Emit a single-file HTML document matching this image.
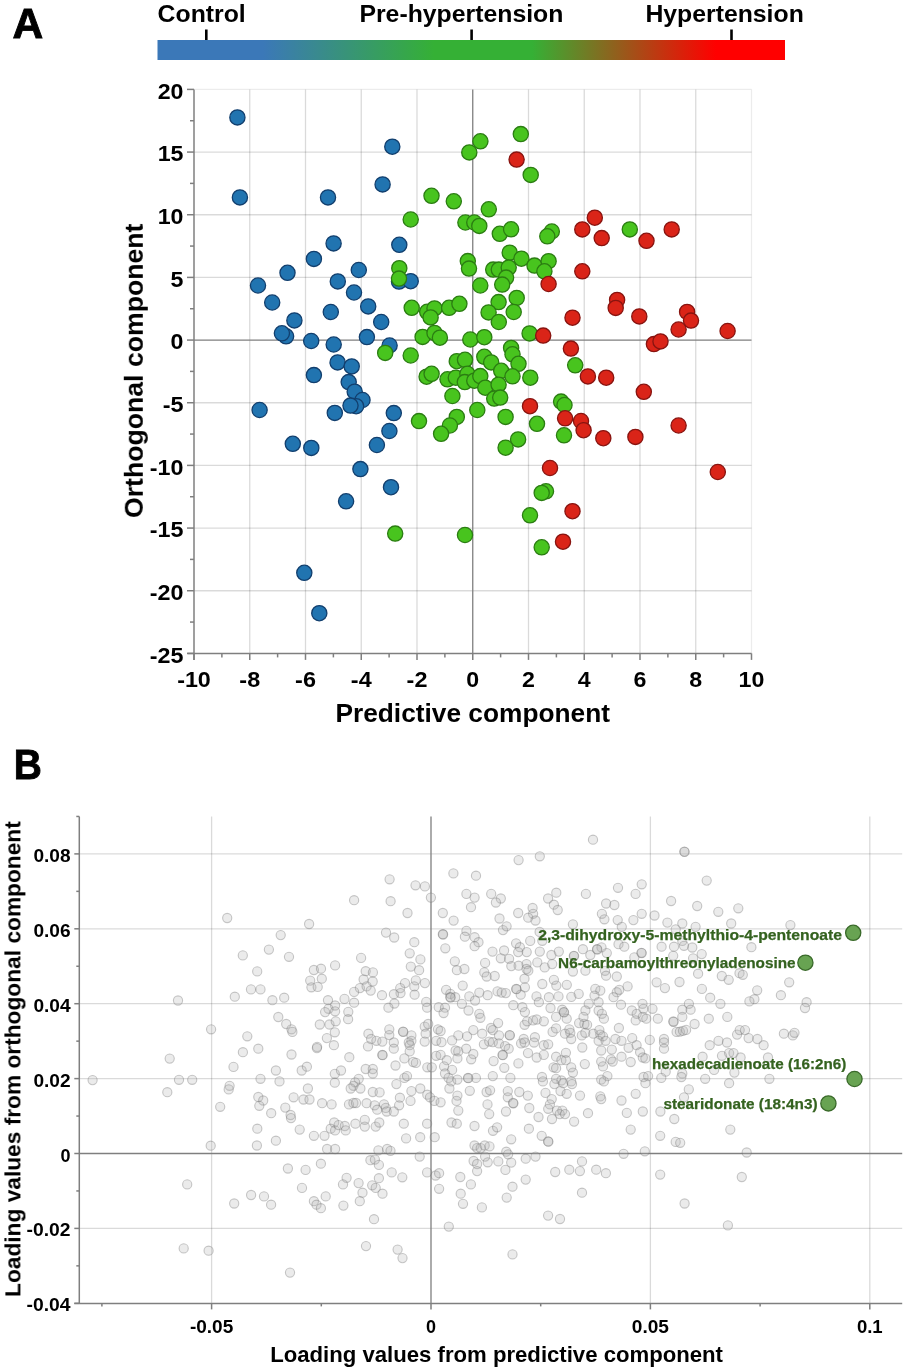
<!DOCTYPE html>
<html><head><meta charset="utf-8"><title>Figure</title><style>
html,body{margin:0;padding:0;background:#fff;}
body{width:905px;height:1371px;overflow:hidden;}
svg{display:block;}
text{font-family:"Liberation Sans",sans-serif;font-weight:bold;fill:#000;will-change:transform;}
.tl{font-size:21.5px;}
.g{fill:rgba(175,175,175,0.25);stroke:rgba(110,110,110,0.37);stroke-width:1.1;}
.tb{font-size:18px;}
.lab{font-size:15px;fill:#34621f;stroke:#34621f;stroke-width:0.25px;}
.cat{font-size:23.5px;}
.pl{font-size:42.5px;stroke:#000;stroke-width:0.9px;}
.at{font-size:26px;}
.bt{font-size:22px;}
</style></head>
<body><svg width="905" height="1371" viewBox="0 0 905 1371">
<rect width="905" height="1371" fill="#fff"/>
<line x1="249.75" y1="89.40" x2="249.75" y2="653.40" stroke="rgba(0,0,0,0.145)" stroke-width="1.3"/>
<line x1="305.50" y1="89.40" x2="305.50" y2="653.40" stroke="rgba(0,0,0,0.145)" stroke-width="1.3"/>
<line x1="361.25" y1="89.40" x2="361.25" y2="653.40" stroke="rgba(0,0,0,0.145)" stroke-width="1.3"/>
<line x1="417.00" y1="89.40" x2="417.00" y2="653.40" stroke="rgba(0,0,0,0.145)" stroke-width="1.3"/>
<line x1="528.50" y1="89.40" x2="528.50" y2="653.40" stroke="rgba(0,0,0,0.145)" stroke-width="1.3"/>
<line x1="584.25" y1="89.40" x2="584.25" y2="653.40" stroke="rgba(0,0,0,0.145)" stroke-width="1.3"/>
<line x1="640.00" y1="89.40" x2="640.00" y2="653.40" stroke="rgba(0,0,0,0.145)" stroke-width="1.3"/>
<line x1="695.75" y1="89.40" x2="695.75" y2="653.40" stroke="rgba(0,0,0,0.145)" stroke-width="1.3"/>
<line x1="751.50" y1="89.40" x2="751.50" y2="653.40" stroke="rgba(0,0,0,0.075)" stroke-width="1.3"/>
<line x1="194.00" y1="89.40" x2="751.50" y2="89.40" stroke="rgba(0,0,0,0.075)" stroke-width="1.3"/>
<line x1="194.00" y1="152.07" x2="751.50" y2="152.07" stroke="rgba(0,0,0,0.145)" stroke-width="1.3"/>
<line x1="194.00" y1="214.73" x2="751.50" y2="214.73" stroke="rgba(0,0,0,0.145)" stroke-width="1.3"/>
<line x1="194.00" y1="277.40" x2="751.50" y2="277.40" stroke="rgba(0,0,0,0.145)" stroke-width="1.3"/>
<line x1="194.00" y1="402.73" x2="751.50" y2="402.73" stroke="rgba(0,0,0,0.145)" stroke-width="1.3"/>
<line x1="194.00" y1="465.40" x2="751.50" y2="465.40" stroke="rgba(0,0,0,0.145)" stroke-width="1.3"/>
<line x1="194.00" y1="528.07" x2="751.50" y2="528.07" stroke="rgba(0,0,0,0.145)" stroke-width="1.3"/>
<line x1="194.00" y1="590.73" x2="751.50" y2="590.73" stroke="rgba(0,0,0,0.145)" stroke-width="1.3"/>
<line x1="472.75" y1="89.40" x2="472.75" y2="653.40" stroke="#7f7f7f" stroke-width="1.3"/>
<line x1="194.00" y1="340.07" x2="751.50" y2="340.07" stroke="#7f7f7f" stroke-width="1.3"/>
<line x1="194.00" y1="89.40" x2="194.00" y2="659.90" stroke="#7f7f7f" stroke-width="1.5"/>
<line x1="187.50" y1="653.40" x2="751.50" y2="653.40" stroke="#7f7f7f" stroke-width="1.5"/>
<line x1="187.00" y1="89.40" x2="194.00" y2="89.40" stroke="#7f7f7f" stroke-width="1.5"/>
<line x1="190.00" y1="120.73" x2="194.00" y2="120.73" stroke="#7f7f7f" stroke-width="1.5"/>
<line x1="187.00" y1="152.07" x2="194.00" y2="152.07" stroke="#7f7f7f" stroke-width="1.5"/>
<line x1="190.00" y1="183.40" x2="194.00" y2="183.40" stroke="#7f7f7f" stroke-width="1.5"/>
<line x1="187.00" y1="214.73" x2="194.00" y2="214.73" stroke="#7f7f7f" stroke-width="1.5"/>
<line x1="190.00" y1="246.07" x2="194.00" y2="246.07" stroke="#7f7f7f" stroke-width="1.5"/>
<line x1="187.00" y1="277.40" x2="194.00" y2="277.40" stroke="#7f7f7f" stroke-width="1.5"/>
<line x1="190.00" y1="308.73" x2="194.00" y2="308.73" stroke="#7f7f7f" stroke-width="1.5"/>
<line x1="187.00" y1="340.07" x2="194.00" y2="340.07" stroke="#7f7f7f" stroke-width="1.5"/>
<line x1="190.00" y1="371.40" x2="194.00" y2="371.40" stroke="#7f7f7f" stroke-width="1.5"/>
<line x1="187.00" y1="402.73" x2="194.00" y2="402.73" stroke="#7f7f7f" stroke-width="1.5"/>
<line x1="190.00" y1="434.07" x2="194.00" y2="434.07" stroke="#7f7f7f" stroke-width="1.5"/>
<line x1="187.00" y1="465.40" x2="194.00" y2="465.40" stroke="#7f7f7f" stroke-width="1.5"/>
<line x1="190.00" y1="496.73" x2="194.00" y2="496.73" stroke="#7f7f7f" stroke-width="1.5"/>
<line x1="187.00" y1="528.07" x2="194.00" y2="528.07" stroke="#7f7f7f" stroke-width="1.5"/>
<line x1="190.00" y1="559.40" x2="194.00" y2="559.40" stroke="#7f7f7f" stroke-width="1.5"/>
<line x1="187.00" y1="590.73" x2="194.00" y2="590.73" stroke="#7f7f7f" stroke-width="1.5"/>
<line x1="190.00" y1="622.07" x2="194.00" y2="622.07" stroke="#7f7f7f" stroke-width="1.5"/>
<line x1="187.00" y1="653.40" x2="194.00" y2="653.40" stroke="#7f7f7f" stroke-width="1.5"/>
<line x1="194.00" y1="653.40" x2="194.00" y2="659.90" stroke="#7f7f7f" stroke-width="1.5"/>
<line x1="221.88" y1="653.40" x2="221.88" y2="657.40" stroke="#7f7f7f" stroke-width="1.5"/>
<line x1="249.75" y1="653.40" x2="249.75" y2="659.90" stroke="#7f7f7f" stroke-width="1.5"/>
<line x1="277.62" y1="653.40" x2="277.62" y2="657.40" stroke="#7f7f7f" stroke-width="1.5"/>
<line x1="305.50" y1="653.40" x2="305.50" y2="659.90" stroke="#7f7f7f" stroke-width="1.5"/>
<line x1="333.38" y1="653.40" x2="333.38" y2="657.40" stroke="#7f7f7f" stroke-width="1.5"/>
<line x1="361.25" y1="653.40" x2="361.25" y2="659.90" stroke="#7f7f7f" stroke-width="1.5"/>
<line x1="389.12" y1="653.40" x2="389.12" y2="657.40" stroke="#7f7f7f" stroke-width="1.5"/>
<line x1="417.00" y1="653.40" x2="417.00" y2="659.90" stroke="#7f7f7f" stroke-width="1.5"/>
<line x1="444.88" y1="653.40" x2="444.88" y2="657.40" stroke="#7f7f7f" stroke-width="1.5"/>
<line x1="472.75" y1="653.40" x2="472.75" y2="659.90" stroke="#7f7f7f" stroke-width="1.5"/>
<line x1="500.62" y1="653.40" x2="500.62" y2="657.40" stroke="#7f7f7f" stroke-width="1.5"/>
<line x1="528.50" y1="653.40" x2="528.50" y2="659.90" stroke="#7f7f7f" stroke-width="1.5"/>
<line x1="556.38" y1="653.40" x2="556.38" y2="657.40" stroke="#7f7f7f" stroke-width="1.5"/>
<line x1="584.25" y1="653.40" x2="584.25" y2="659.90" stroke="#7f7f7f" stroke-width="1.5"/>
<line x1="612.12" y1="653.40" x2="612.12" y2="657.40" stroke="#7f7f7f" stroke-width="1.5"/>
<line x1="640.00" y1="653.40" x2="640.00" y2="659.90" stroke="#7f7f7f" stroke-width="1.5"/>
<line x1="667.88" y1="653.40" x2="667.88" y2="657.40" stroke="#7f7f7f" stroke-width="1.5"/>
<line x1="695.75" y1="653.40" x2="695.75" y2="659.90" stroke="#7f7f7f" stroke-width="1.5"/>
<line x1="723.62" y1="653.40" x2="723.62" y2="657.40" stroke="#7f7f7f" stroke-width="1.5"/>
<line x1="751.50" y1="653.40" x2="751.50" y2="659.90" stroke="#7f7f7f" stroke-width="1.5"/>
<text x="183.5" y="98.70" text-anchor="end" class="tl" textLength="25.8" lengthAdjust="spacingAndGlyphs">20</text>
<text x="183.5" y="161.37" text-anchor="end" class="tl" textLength="25.8" lengthAdjust="spacingAndGlyphs">15</text>
<text x="183.5" y="224.03" text-anchor="end" class="tl" textLength="25.8" lengthAdjust="spacingAndGlyphs">10</text>
<text x="183.5" y="286.70" text-anchor="end" class="tl" textLength="12.9" lengthAdjust="spacingAndGlyphs">5</text>
<text x="183.5" y="349.37" text-anchor="end" class="tl" textLength="12.9" lengthAdjust="spacingAndGlyphs">0</text>
<text x="183.5" y="412.03" text-anchor="end" class="tl" textLength="20.8" lengthAdjust="spacingAndGlyphs">-5</text>
<text x="183.5" y="474.70" text-anchor="end" class="tl" textLength="33.7" lengthAdjust="spacingAndGlyphs">-10</text>
<text x="183.5" y="537.37" text-anchor="end" class="tl" textLength="33.7" lengthAdjust="spacingAndGlyphs">-15</text>
<text x="183.5" y="600.03" text-anchor="end" class="tl" textLength="33.7" lengthAdjust="spacingAndGlyphs">-20</text>
<text x="183.5" y="662.70" text-anchor="end" class="tl" textLength="33.7" lengthAdjust="spacingAndGlyphs">-25</text>
<text x="194.00" y="686.8" text-anchor="middle" class="tl" textLength="33.7" lengthAdjust="spacingAndGlyphs">-10</text>
<text x="249.75" y="686.8" text-anchor="middle" class="tl" textLength="20.8" lengthAdjust="spacingAndGlyphs">-8</text>
<text x="305.50" y="686.8" text-anchor="middle" class="tl" textLength="20.8" lengthAdjust="spacingAndGlyphs">-6</text>
<text x="361.25" y="686.8" text-anchor="middle" class="tl" textLength="20.8" lengthAdjust="spacingAndGlyphs">-4</text>
<text x="417.00" y="686.8" text-anchor="middle" class="tl" textLength="20.8" lengthAdjust="spacingAndGlyphs">-2</text>
<text x="472.75" y="686.8" text-anchor="middle" class="tl" textLength="12.9" lengthAdjust="spacingAndGlyphs">0</text>
<text x="528.50" y="686.8" text-anchor="middle" class="tl" textLength="12.9" lengthAdjust="spacingAndGlyphs">2</text>
<text x="584.25" y="686.8" text-anchor="middle" class="tl" textLength="12.9" lengthAdjust="spacingAndGlyphs">4</text>
<text x="640.00" y="686.8" text-anchor="middle" class="tl" textLength="12.9" lengthAdjust="spacingAndGlyphs">6</text>
<text x="695.75" y="686.8" text-anchor="middle" class="tl" textLength="12.9" lengthAdjust="spacingAndGlyphs">8</text>
<text x="751.50" y="686.8" text-anchor="middle" class="tl" textLength="25.8" lengthAdjust="spacingAndGlyphs">10</text>
<circle cx="237.4" cy="117.4" r="7.6" fill="#2174b0" stroke="#123f6e" stroke-width="1.3"/>
<circle cx="239.9" cy="197.4" r="7.6" fill="#2174b0" stroke="#123f6e" stroke-width="1.3"/>
<circle cx="328.0" cy="197.4" r="7.6" fill="#2174b0" stroke="#123f6e" stroke-width="1.3"/>
<circle cx="392.3" cy="146.7" r="7.6" fill="#2174b0" stroke="#123f6e" stroke-width="1.3"/>
<circle cx="382.6" cy="184.4" r="7.6" fill="#2174b0" stroke="#123f6e" stroke-width="1.3"/>
<circle cx="333.6" cy="243.4" r="7.6" fill="#2174b0" stroke="#123f6e" stroke-width="1.3"/>
<circle cx="313.9" cy="258.9" r="7.6" fill="#2174b0" stroke="#123f6e" stroke-width="1.3"/>
<circle cx="287.5" cy="272.8" r="7.6" fill="#2174b0" stroke="#123f6e" stroke-width="1.3"/>
<circle cx="358.8" cy="270.0" r="7.6" fill="#2174b0" stroke="#123f6e" stroke-width="1.3"/>
<circle cx="258.0" cy="285.5" r="7.6" fill="#2174b0" stroke="#123f6e" stroke-width="1.3"/>
<circle cx="337.8" cy="281.4" r="7.6" fill="#2174b0" stroke="#123f6e" stroke-width="1.3"/>
<circle cx="272.2" cy="302.5" r="7.6" fill="#2174b0" stroke="#123f6e" stroke-width="1.3"/>
<circle cx="354.0" cy="292.5" r="7.6" fill="#2174b0" stroke="#123f6e" stroke-width="1.3"/>
<circle cx="368.2" cy="306.4" r="7.6" fill="#2174b0" stroke="#123f6e" stroke-width="1.3"/>
<circle cx="330.8" cy="312.0" r="7.6" fill="#2174b0" stroke="#123f6e" stroke-width="1.3"/>
<circle cx="294.4" cy="320.4" r="7.6" fill="#2174b0" stroke="#123f6e" stroke-width="1.3"/>
<circle cx="286.1" cy="336.3" r="7.6" fill="#2174b0" stroke="#123f6e" stroke-width="1.3"/>
<circle cx="281.9" cy="333.3" r="7.6" fill="#2174b0" stroke="#123f6e" stroke-width="1.3"/>
<circle cx="311.2" cy="341.0" r="7.6" fill="#2174b0" stroke="#123f6e" stroke-width="1.3"/>
<circle cx="333.7" cy="344.5" r="7.6" fill="#2174b0" stroke="#123f6e" stroke-width="1.3"/>
<circle cx="366.9" cy="337.1" r="7.6" fill="#2174b0" stroke="#123f6e" stroke-width="1.3"/>
<circle cx="399.3" cy="244.8" r="7.6" fill="#2174b0" stroke="#123f6e" stroke-width="1.3"/>
<circle cx="399.0" cy="281.6" r="7.6" fill="#2174b0" stroke="#123f6e" stroke-width="1.3"/>
<circle cx="410.7" cy="281.2" r="7.6" fill="#2174b0" stroke="#123f6e" stroke-width="1.3"/>
<circle cx="381.2" cy="322.0" r="7.6" fill="#2174b0" stroke="#123f6e" stroke-width="1.3"/>
<circle cx="389.6" cy="345.5" r="7.6" fill="#2174b0" stroke="#123f6e" stroke-width="1.3"/>
<circle cx="337.6" cy="362.4" r="7.6" fill="#2174b0" stroke="#123f6e" stroke-width="1.3"/>
<circle cx="351.7" cy="366.4" r="7.6" fill="#2174b0" stroke="#123f6e" stroke-width="1.3"/>
<circle cx="313.9" cy="375.1" r="7.6" fill="#2174b0" stroke="#123f6e" stroke-width="1.3"/>
<circle cx="348.7" cy="382.1" r="7.6" fill="#2174b0" stroke="#123f6e" stroke-width="1.3"/>
<circle cx="354.7" cy="391.7" r="7.6" fill="#2174b0" stroke="#123f6e" stroke-width="1.3"/>
<circle cx="362.5" cy="400.0" r="7.6" fill="#2174b0" stroke="#123f6e" stroke-width="1.3"/>
<circle cx="356.1" cy="406.2" r="7.6" fill="#2174b0" stroke="#123f6e" stroke-width="1.3"/>
<circle cx="350.5" cy="405.6" r="7.6" fill="#2174b0" stroke="#123f6e" stroke-width="1.3"/>
<circle cx="259.6" cy="410.0" r="7.6" fill="#2174b0" stroke="#123f6e" stroke-width="1.3"/>
<circle cx="334.8" cy="412.9" r="7.6" fill="#2174b0" stroke="#123f6e" stroke-width="1.3"/>
<circle cx="292.8" cy="443.8" r="7.6" fill="#2174b0" stroke="#123f6e" stroke-width="1.3"/>
<circle cx="311.3" cy="447.9" r="7.6" fill="#2174b0" stroke="#123f6e" stroke-width="1.3"/>
<circle cx="393.8" cy="413.1" r="7.6" fill="#2174b0" stroke="#123f6e" stroke-width="1.3"/>
<circle cx="389.4" cy="431.0" r="7.6" fill="#2174b0" stroke="#123f6e" stroke-width="1.3"/>
<circle cx="376.9" cy="445.0" r="7.6" fill="#2174b0" stroke="#123f6e" stroke-width="1.3"/>
<circle cx="360.4" cy="469.1" r="7.6" fill="#2174b0" stroke="#123f6e" stroke-width="1.3"/>
<circle cx="346.1" cy="501.3" r="7.6" fill="#2174b0" stroke="#123f6e" stroke-width="1.3"/>
<circle cx="304.3" cy="572.8" r="7.6" fill="#2174b0" stroke="#123f6e" stroke-width="1.3"/>
<circle cx="319.3" cy="613.2" r="7.6" fill="#2174b0" stroke="#123f6e" stroke-width="1.3"/>
<circle cx="391.0" cy="487.2" r="7.6" fill="#2174b0" stroke="#123f6e" stroke-width="1.3"/>
<circle cx="480.4" cy="141.3" r="7.6" fill="#48c41e" stroke="#2b7d12" stroke-width="1.3"/>
<circle cx="469.3" cy="152.4" r="7.6" fill="#48c41e" stroke="#2b7d12" stroke-width="1.3"/>
<circle cx="520.8" cy="134.1" r="7.6" fill="#48c41e" stroke="#2b7d12" stroke-width="1.3"/>
<circle cx="530.7" cy="174.9" r="7.6" fill="#48c41e" stroke="#2b7d12" stroke-width="1.3"/>
<circle cx="431.5" cy="195.8" r="7.6" fill="#48c41e" stroke="#2b7d12" stroke-width="1.3"/>
<circle cx="453.8" cy="201.3" r="7.6" fill="#48c41e" stroke="#2b7d12" stroke-width="1.3"/>
<circle cx="488.8" cy="209.3" r="7.6" fill="#48c41e" stroke="#2b7d12" stroke-width="1.3"/>
<circle cx="410.7" cy="219.5" r="7.6" fill="#48c41e" stroke="#2b7d12" stroke-width="1.3"/>
<circle cx="465.4" cy="222.5" r="7.6" fill="#48c41e" stroke="#2b7d12" stroke-width="1.3"/>
<circle cx="474.3" cy="222.5" r="7.6" fill="#48c41e" stroke="#2b7d12" stroke-width="1.3"/>
<circle cx="479.3" cy="225.9" r="7.6" fill="#48c41e" stroke="#2b7d12" stroke-width="1.3"/>
<circle cx="499.8" cy="233.8" r="7.6" fill="#48c41e" stroke="#2b7d12" stroke-width="1.3"/>
<circle cx="511.1" cy="229.3" r="7.6" fill="#48c41e" stroke="#2b7d12" stroke-width="1.3"/>
<circle cx="467.8" cy="261.1" r="7.6" fill="#48c41e" stroke="#2b7d12" stroke-width="1.3"/>
<circle cx="469.0" cy="268.6" r="7.6" fill="#48c41e" stroke="#2b7d12" stroke-width="1.3"/>
<circle cx="509.7" cy="252.7" r="7.6" fill="#48c41e" stroke="#2b7d12" stroke-width="1.3"/>
<circle cx="521.4" cy="258.7" r="7.6" fill="#48c41e" stroke="#2b7d12" stroke-width="1.3"/>
<circle cx="534.5" cy="265.6" r="7.6" fill="#48c41e" stroke="#2b7d12" stroke-width="1.3"/>
<circle cx="399.3" cy="268.2" r="7.6" fill="#48c41e" stroke="#2b7d12" stroke-width="1.3"/>
<circle cx="399.0" cy="278.6" r="7.6" fill="#48c41e" stroke="#2b7d12" stroke-width="1.3"/>
<circle cx="493.2" cy="269.6" r="7.6" fill="#48c41e" stroke="#2b7d12" stroke-width="1.3"/>
<circle cx="498.8" cy="269.6" r="7.6" fill="#48c41e" stroke="#2b7d12" stroke-width="1.3"/>
<circle cx="508.7" cy="267.6" r="7.6" fill="#48c41e" stroke="#2b7d12" stroke-width="1.3"/>
<circle cx="506.1" cy="277.6" r="7.6" fill="#48c41e" stroke="#2b7d12" stroke-width="1.3"/>
<circle cx="502.2" cy="284.6" r="7.6" fill="#48c41e" stroke="#2b7d12" stroke-width="1.3"/>
<circle cx="480.3" cy="285.5" r="7.6" fill="#48c41e" stroke="#2b7d12" stroke-width="1.3"/>
<circle cx="411.7" cy="307.8" r="7.6" fill="#48c41e" stroke="#2b7d12" stroke-width="1.3"/>
<circle cx="427.2" cy="311.8" r="7.6" fill="#48c41e" stroke="#2b7d12" stroke-width="1.3"/>
<circle cx="434.5" cy="308.4" r="7.6" fill="#48c41e" stroke="#2b7d12" stroke-width="1.3"/>
<circle cx="430.6" cy="317.4" r="7.6" fill="#48c41e" stroke="#2b7d12" stroke-width="1.3"/>
<circle cx="449.1" cy="307.8" r="7.6" fill="#48c41e" stroke="#2b7d12" stroke-width="1.3"/>
<circle cx="459.4" cy="303.8" r="7.6" fill="#48c41e" stroke="#2b7d12" stroke-width="1.3"/>
<circle cx="498.6" cy="302.1" r="7.6" fill="#48c41e" stroke="#2b7d12" stroke-width="1.3"/>
<circle cx="516.7" cy="297.9" r="7.6" fill="#48c41e" stroke="#2b7d12" stroke-width="1.3"/>
<circle cx="488.6" cy="312.4" r="7.6" fill="#48c41e" stroke="#2b7d12" stroke-width="1.3"/>
<circle cx="513.7" cy="312.0" r="7.6" fill="#48c41e" stroke="#2b7d12" stroke-width="1.3"/>
<circle cx="498.8" cy="322.0" r="7.6" fill="#48c41e" stroke="#2b7d12" stroke-width="1.3"/>
<circle cx="529.6" cy="333.4" r="7.6" fill="#48c41e" stroke="#2b7d12" stroke-width="1.3"/>
<circle cx="422.6" cy="336.9" r="7.6" fill="#48c41e" stroke="#2b7d12" stroke-width="1.3"/>
<circle cx="434.5" cy="332.9" r="7.6" fill="#48c41e" stroke="#2b7d12" stroke-width="1.3"/>
<circle cx="439.9" cy="337.7" r="7.6" fill="#48c41e" stroke="#2b7d12" stroke-width="1.3"/>
<circle cx="470.3" cy="339.5" r="7.6" fill="#48c41e" stroke="#2b7d12" stroke-width="1.3"/>
<circle cx="484.3" cy="337.2" r="7.6" fill="#48c41e" stroke="#2b7d12" stroke-width="1.3"/>
<circle cx="551.8" cy="231.5" r="7.6" fill="#48c41e" stroke="#2b7d12" stroke-width="1.3"/>
<circle cx="547.3" cy="236.3" r="7.6" fill="#48c41e" stroke="#2b7d12" stroke-width="1.3"/>
<circle cx="629.8" cy="229.4" r="7.6" fill="#48c41e" stroke="#2b7d12" stroke-width="1.3"/>
<circle cx="548.6" cy="261.2" r="7.6" fill="#48c41e" stroke="#2b7d12" stroke-width="1.3"/>
<circle cx="544.4" cy="271.3" r="7.6" fill="#48c41e" stroke="#2b7d12" stroke-width="1.3"/>
<circle cx="385.2" cy="352.9" r="7.6" fill="#48c41e" stroke="#2b7d12" stroke-width="1.3"/>
<circle cx="410.7" cy="355.5" r="7.6" fill="#48c41e" stroke="#2b7d12" stroke-width="1.3"/>
<circle cx="426.6" cy="376.7" r="7.6" fill="#48c41e" stroke="#2b7d12" stroke-width="1.3"/>
<circle cx="431.6" cy="373.8" r="7.6" fill="#48c41e" stroke="#2b7d12" stroke-width="1.3"/>
<circle cx="456.8" cy="361.2" r="7.6" fill="#48c41e" stroke="#2b7d12" stroke-width="1.3"/>
<circle cx="465.0" cy="359.8" r="7.6" fill="#48c41e" stroke="#2b7d12" stroke-width="1.3"/>
<circle cx="447.5" cy="379.3" r="7.6" fill="#48c41e" stroke="#2b7d12" stroke-width="1.3"/>
<circle cx="455.8" cy="377.7" r="7.6" fill="#48c41e" stroke="#2b7d12" stroke-width="1.3"/>
<circle cx="467.4" cy="373.8" r="7.6" fill="#48c41e" stroke="#2b7d12" stroke-width="1.3"/>
<circle cx="464.8" cy="382.1" r="7.6" fill="#48c41e" stroke="#2b7d12" stroke-width="1.3"/>
<circle cx="474.3" cy="380.7" r="7.6" fill="#48c41e" stroke="#2b7d12" stroke-width="1.3"/>
<circle cx="480.3" cy="376.1" r="7.6" fill="#48c41e" stroke="#2b7d12" stroke-width="1.3"/>
<circle cx="452.4" cy="396.0" r="7.6" fill="#48c41e" stroke="#2b7d12" stroke-width="1.3"/>
<circle cx="484.3" cy="356.8" r="7.6" fill="#48c41e" stroke="#2b7d12" stroke-width="1.3"/>
<circle cx="491.2" cy="362.4" r="7.6" fill="#48c41e" stroke="#2b7d12" stroke-width="1.3"/>
<circle cx="511.1" cy="347.9" r="7.6" fill="#48c41e" stroke="#2b7d12" stroke-width="1.3"/>
<circle cx="512.5" cy="354.3" r="7.6" fill="#48c41e" stroke="#2b7d12" stroke-width="1.3"/>
<circle cx="518.5" cy="363.8" r="7.6" fill="#48c41e" stroke="#2b7d12" stroke-width="1.3"/>
<circle cx="501.2" cy="370.8" r="7.6" fill="#48c41e" stroke="#2b7d12" stroke-width="1.3"/>
<circle cx="512.5" cy="376.3" r="7.6" fill="#48c41e" stroke="#2b7d12" stroke-width="1.3"/>
<circle cx="485.3" cy="387.7" r="7.6" fill="#48c41e" stroke="#2b7d12" stroke-width="1.3"/>
<circle cx="498.6" cy="384.7" r="7.6" fill="#48c41e" stroke="#2b7d12" stroke-width="1.3"/>
<circle cx="494.2" cy="398.6" r="7.6" fill="#48c41e" stroke="#2b7d12" stroke-width="1.3"/>
<circle cx="500.2" cy="397.6" r="7.6" fill="#48c41e" stroke="#2b7d12" stroke-width="1.3"/>
<circle cx="530.3" cy="377.7" r="7.6" fill="#48c41e" stroke="#2b7d12" stroke-width="1.3"/>
<circle cx="477.3" cy="410.0" r="7.6" fill="#48c41e" stroke="#2b7d12" stroke-width="1.3"/>
<circle cx="456.8" cy="416.9" r="7.6" fill="#48c41e" stroke="#2b7d12" stroke-width="1.3"/>
<circle cx="449.9" cy="425.5" r="7.6" fill="#48c41e" stroke="#2b7d12" stroke-width="1.3"/>
<circle cx="441.1" cy="433.8" r="7.6" fill="#48c41e" stroke="#2b7d12" stroke-width="1.3"/>
<circle cx="419.0" cy="421.1" r="7.6" fill="#48c41e" stroke="#2b7d12" stroke-width="1.3"/>
<circle cx="505.6" cy="416.9" r="7.6" fill="#48c41e" stroke="#2b7d12" stroke-width="1.3"/>
<circle cx="537.0" cy="423.8" r="7.6" fill="#48c41e" stroke="#2b7d12" stroke-width="1.3"/>
<circle cx="518.1" cy="439.4" r="7.6" fill="#48c41e" stroke="#2b7d12" stroke-width="1.3"/>
<circle cx="505.6" cy="447.7" r="7.6" fill="#48c41e" stroke="#2b7d12" stroke-width="1.3"/>
<circle cx="575.2" cy="365.3" r="7.6" fill="#48c41e" stroke="#2b7d12" stroke-width="1.3"/>
<circle cx="561.1" cy="401.6" r="7.6" fill="#48c41e" stroke="#2b7d12" stroke-width="1.3"/>
<circle cx="564.5" cy="405.0" r="7.6" fill="#48c41e" stroke="#2b7d12" stroke-width="1.3"/>
<circle cx="564.0" cy="435.3" r="7.6" fill="#48c41e" stroke="#2b7d12" stroke-width="1.3"/>
<circle cx="395.2" cy="533.6" r="7.6" fill="#48c41e" stroke="#2b7d12" stroke-width="1.3"/>
<circle cx="465.0" cy="535.0" r="7.6" fill="#48c41e" stroke="#2b7d12" stroke-width="1.3"/>
<circle cx="530.0" cy="515.3" r="7.6" fill="#48c41e" stroke="#2b7d12" stroke-width="1.3"/>
<circle cx="546.0" cy="491.3" r="7.6" fill="#48c41e" stroke="#2b7d12" stroke-width="1.3"/>
<circle cx="541.7" cy="492.9" r="7.6" fill="#48c41e" stroke="#2b7d12" stroke-width="1.3"/>
<circle cx="541.7" cy="547.3" r="7.6" fill="#48c41e" stroke="#2b7d12" stroke-width="1.3"/>
<circle cx="516.6" cy="159.6" r="7.6" fill="#da2418" stroke="#881410" stroke-width="1.3"/>
<circle cx="594.8" cy="217.7" r="7.6" fill="#da2418" stroke="#881410" stroke-width="1.3"/>
<circle cx="582.3" cy="229.4" r="7.6" fill="#da2418" stroke="#881410" stroke-width="1.3"/>
<circle cx="601.7" cy="238.1" r="7.6" fill="#da2418" stroke="#881410" stroke-width="1.3"/>
<circle cx="646.5" cy="240.8" r="7.6" fill="#da2418" stroke="#881410" stroke-width="1.3"/>
<circle cx="671.7" cy="229.4" r="7.6" fill="#da2418" stroke="#881410" stroke-width="1.3"/>
<circle cx="582.3" cy="271.3" r="7.6" fill="#da2418" stroke="#881410" stroke-width="1.3"/>
<circle cx="548.6" cy="284.0" r="7.6" fill="#da2418" stroke="#881410" stroke-width="1.3"/>
<circle cx="617.1" cy="299.9" r="7.6" fill="#da2418" stroke="#881410" stroke-width="1.3"/>
<circle cx="615.7" cy="307.9" r="7.6" fill="#da2418" stroke="#881410" stroke-width="1.3"/>
<circle cx="572.5" cy="317.7" r="7.6" fill="#da2418" stroke="#881410" stroke-width="1.3"/>
<circle cx="639.3" cy="316.4" r="7.6" fill="#da2418" stroke="#881410" stroke-width="1.3"/>
<circle cx="687.1" cy="311.9" r="7.6" fill="#da2418" stroke="#881410" stroke-width="1.3"/>
<circle cx="691.0" cy="320.6" r="7.6" fill="#da2418" stroke="#881410" stroke-width="1.3"/>
<circle cx="678.6" cy="329.5" r="7.6" fill="#da2418" stroke="#881410" stroke-width="1.3"/>
<circle cx="727.6" cy="331.0" r="7.6" fill="#da2418" stroke="#881410" stroke-width="1.3"/>
<circle cx="543.2" cy="335.6" r="7.6" fill="#da2418" stroke="#881410" stroke-width="1.3"/>
<circle cx="570.9" cy="348.6" r="7.6" fill="#da2418" stroke="#881410" stroke-width="1.3"/>
<circle cx="653.9" cy="344.1" r="7.6" fill="#da2418" stroke="#881410" stroke-width="1.3"/>
<circle cx="660.5" cy="341.4" r="7.6" fill="#da2418" stroke="#881410" stroke-width="1.3"/>
<circle cx="530.0" cy="406.2" r="7.6" fill="#da2418" stroke="#881410" stroke-width="1.3"/>
<circle cx="587.9" cy="376.4" r="7.6" fill="#da2418" stroke="#881410" stroke-width="1.3"/>
<circle cx="606.2" cy="377.7" r="7.6" fill="#da2418" stroke="#881410" stroke-width="1.3"/>
<circle cx="643.8" cy="391.8" r="7.6" fill="#da2418" stroke="#881410" stroke-width="1.3"/>
<circle cx="565.1" cy="418.3" r="7.6" fill="#da2418" stroke="#881410" stroke-width="1.3"/>
<circle cx="581.0" cy="421.0" r="7.6" fill="#da2418" stroke="#881410" stroke-width="1.3"/>
<circle cx="583.6" cy="430.2" r="7.6" fill="#da2418" stroke="#881410" stroke-width="1.3"/>
<circle cx="603.3" cy="438.2" r="7.6" fill="#da2418" stroke="#881410" stroke-width="1.3"/>
<circle cx="635.4" cy="436.9" r="7.6" fill="#da2418" stroke="#881410" stroke-width="1.3"/>
<circle cx="678.6" cy="425.5" r="7.6" fill="#da2418" stroke="#881410" stroke-width="1.3"/>
<circle cx="550.0" cy="468.0" r="7.6" fill="#da2418" stroke="#881410" stroke-width="1.3"/>
<circle cx="717.8" cy="472.0" r="7.6" fill="#da2418" stroke="#881410" stroke-width="1.3"/>
<circle cx="572.5" cy="511.2" r="7.6" fill="#da2418" stroke="#881410" stroke-width="1.3"/>
<circle cx="563.0" cy="541.7" r="7.6" fill="#da2418" stroke="#881410" stroke-width="1.3"/>
<line x1="211.60" y1="816.50" x2="211.60" y2="1303.40" stroke="rgba(0,0,0,0.145)" stroke-width="1.3"/>
<line x1="650.40" y1="816.50" x2="650.40" y2="1303.40" stroke="rgba(0,0,0,0.145)" stroke-width="1.3"/>
<line x1="869.80" y1="816.50" x2="869.80" y2="1303.40" stroke="rgba(0,0,0,0.145)" stroke-width="1.3"/>
<line x1="79.30" y1="853.90" x2="902.20" y2="853.90" stroke="rgba(0,0,0,0.145)" stroke-width="1.3"/>
<line x1="79.30" y1="928.80" x2="902.20" y2="928.80" stroke="rgba(0,0,0,0.145)" stroke-width="1.3"/>
<line x1="79.30" y1="1003.70" x2="902.20" y2="1003.70" stroke="rgba(0,0,0,0.145)" stroke-width="1.3"/>
<line x1="79.30" y1="1078.60" x2="902.20" y2="1078.60" stroke="rgba(0,0,0,0.145)" stroke-width="1.3"/>
<line x1="79.30" y1="1228.40" x2="902.20" y2="1228.40" stroke="rgba(0,0,0,0.145)" stroke-width="1.3"/>
<line x1="431.00" y1="816.50" x2="431.00" y2="1303.40" stroke="#7f7f7f" stroke-width="1.3"/>
<line x1="79.30" y1="1153.50" x2="902.20" y2="1153.50" stroke="#7f7f7f" stroke-width="1.3"/>
<circle cx="354.1" cy="900.2" r="4.6" class="g"/>
<circle cx="518.6" cy="860.1" r="4.6" class="g"/>
<circle cx="453.4" cy="873.4" r="4.6" class="g"/>
<circle cx="476.0" cy="875.7" r="4.6" class="g"/>
<circle cx="389.6" cy="879.3" r="4.6" class="g"/>
<circle cx="415.5" cy="885.3" r="4.6" class="g"/>
<circle cx="424.9" cy="886.4" r="4.6" class="g"/>
<circle cx="430.9" cy="897.6" r="4.6" class="g"/>
<circle cx="390.6" cy="901.2" r="4.6" class="g"/>
<circle cx="466.4" cy="893.9" r="4.6" class="g"/>
<circle cx="474.6" cy="897.6" r="4.6" class="g"/>
<circle cx="491.2" cy="893.9" r="4.6" class="g"/>
<circle cx="500.8" cy="898.5" r="4.6" class="g"/>
<circle cx="495.9" cy="902.5" r="4.6" class="g"/>
<circle cx="471.0" cy="907.2" r="4.6" class="g"/>
<circle cx="407.5" cy="913.0" r="4.6" class="g"/>
<circle cx="442.8" cy="913.0" r="4.6" class="g"/>
<circle cx="518.2" cy="913.0" r="4.6" class="g"/>
<circle cx="593.0" cy="839.7" r="4.6" class="g"/>
<circle cx="539.8" cy="856.3" r="4.6" class="g"/>
<circle cx="641.7" cy="884.3" r="4.6" class="g"/>
<circle cx="618.0" cy="887.8" r="4.6" class="g"/>
<circle cx="556.3" cy="892.7" r="4.6" class="g"/>
<circle cx="585.9" cy="893.9" r="4.6" class="g"/>
<circle cx="635.6" cy="893.9" r="4.6" class="g"/>
<circle cx="548.1" cy="898.5" r="4.6" class="g"/>
<circle cx="553.9" cy="904.7" r="4.6" class="g"/>
<circle cx="557.7" cy="910.0" r="4.6" class="g"/>
<circle cx="606.1" cy="903.5" r="4.6" class="g"/>
<circle cx="614.4" cy="905.0" r="4.6" class="g"/>
<circle cx="671.1" cy="901.0" r="4.6" class="g"/>
<circle cx="532.6" cy="908.0" r="4.6" class="g"/>
<circle cx="533.1" cy="913.8" r="4.6" class="g"/>
<circle cx="601.9" cy="913.8" r="4.6" class="g"/>
<circle cx="641.7" cy="913.8" r="4.6" class="g"/>
<circle cx="654.5" cy="915.5" r="4.6" class="g"/>
<circle cx="684.3" cy="851.6" r="4.6" class="g"/>
<circle cx="706.7" cy="880.6" r="4.6" class="g"/>
<circle cx="697.2" cy="906.0" r="4.6" class="g"/>
<circle cx="718.3" cy="911.8" r="4.6" class="g"/>
<circle cx="738.3" cy="908.3" r="4.6" class="g"/>
<circle cx="178.0" cy="1000.5" r="4.6" class="g"/>
<circle cx="227.2" cy="918.0" r="4.6" class="g"/>
<circle cx="309.1" cy="924.0" r="4.6" class="g"/>
<circle cx="280.7" cy="935.1" r="4.6" class="g"/>
<circle cx="268.9" cy="949.6" r="4.6" class="g"/>
<circle cx="242.8" cy="955.4" r="4.6" class="g"/>
<circle cx="289.0" cy="956.8" r="4.6" class="g"/>
<circle cx="361.1" cy="957.9" r="4.6" class="g"/>
<circle cx="335.1" cy="965.4" r="4.6" class="g"/>
<circle cx="257.2" cy="971.4" r="4.6" class="g"/>
<circle cx="313.9" cy="970.0" r="4.6" class="g"/>
<circle cx="321.0" cy="968.7" r="4.6" class="g"/>
<circle cx="321.8" cy="978.7" r="4.6" class="g"/>
<circle cx="310.2" cy="980.6" r="4.6" class="g"/>
<circle cx="311.4" cy="987.3" r="4.6" class="g"/>
<circle cx="317.7" cy="986.9" r="4.6" class="g"/>
<circle cx="365.7" cy="971.2" r="4.6" class="g"/>
<circle cx="372.9" cy="972.4" r="4.6" class="g"/>
<circle cx="363.6" cy="979.5" r="4.6" class="g"/>
<circle cx="372.7" cy="981.5" r="4.6" class="g"/>
<circle cx="359.9" cy="988.1" r="4.6" class="g"/>
<circle cx="366.6" cy="986.4" r="4.6" class="g"/>
<circle cx="370.7" cy="990.6" r="4.6" class="g"/>
<circle cx="354.1" cy="991.9" r="4.6" class="g"/>
<circle cx="251.0" cy="989.4" r="4.6" class="g"/>
<circle cx="260.5" cy="989.4" r="4.6" class="g"/>
<circle cx="234.8" cy="996.7" r="4.6" class="g"/>
<circle cx="272.4" cy="1000.2" r="4.6" class="g"/>
<circle cx="284.2" cy="997.7" r="4.6" class="g"/>
<circle cx="328.0" cy="1000.2" r="4.6" class="g"/>
<circle cx="344.5" cy="998.9" r="4.6" class="g"/>
<circle cx="354.1" cy="1002.7" r="4.6" class="g"/>
<circle cx="335.1" cy="1005.5" r="4.6" class="g"/>
<circle cx="328.5" cy="1008.8" r="4.6" class="g"/>
<circle cx="325.1" cy="1012.1" r="4.6" class="g"/>
<circle cx="335.1" cy="1011.3" r="4.6" class="g"/>
<circle cx="348.3" cy="1011.8" r="4.6" class="g"/>
<circle cx="453.6" cy="920.6" r="4.6" class="g"/>
<circle cx="499.5" cy="918.5" r="4.6" class="g"/>
<circle cx="528.2" cy="917.7" r="4.6" class="g"/>
<circle cx="386.0" cy="932.6" r="4.6" class="g"/>
<circle cx="394.2" cy="937.5" r="4.6" class="g"/>
<circle cx="414.3" cy="942.2" r="4.6" class="g"/>
<circle cx="442.8" cy="934.2" r="4.6" class="g"/>
<circle cx="445.3" cy="948.3" r="4.6" class="g"/>
<circle cx="409.7" cy="953.3" r="4.6" class="g"/>
<circle cx="420.4" cy="959.4" r="4.6" class="g"/>
<circle cx="410.8" cy="966.6" r="4.6" class="g"/>
<circle cx="419.1" cy="970.2" r="4.6" class="g"/>
<circle cx="466.4" cy="930.9" r="4.6" class="g"/>
<circle cx="464.9" cy="936.7" r="4.6" class="g"/>
<circle cx="474.6" cy="937.2" r="4.6" class="g"/>
<circle cx="478.5" cy="942.2" r="4.6" class="g"/>
<circle cx="474.6" cy="946.2" r="4.6" class="g"/>
<circle cx="454.8" cy="961.3" r="4.6" class="g"/>
<circle cx="456.9" cy="970.2" r="4.6" class="g"/>
<circle cx="464.4" cy="969.0" r="4.6" class="g"/>
<circle cx="492.5" cy="951.6" r="4.6" class="g"/>
<circle cx="504.1" cy="950.5" r="4.6" class="g"/>
<circle cx="500.8" cy="958.3" r="4.6" class="g"/>
<circle cx="509.1" cy="958.8" r="4.6" class="g"/>
<circle cx="511.3" cy="966.1" r="4.6" class="g"/>
<circle cx="518.6" cy="965.7" r="4.6" class="g"/>
<circle cx="485.1" cy="962.9" r="4.6" class="g"/>
<circle cx="484.3" cy="972.4" r="4.6" class="g"/>
<circle cx="486.7" cy="976.5" r="4.6" class="g"/>
<circle cx="494.7" cy="976.0" r="4.6" class="g"/>
<circle cx="503.0" cy="930.1" r="4.6" class="g"/>
<circle cx="506.6" cy="926.3" r="4.6" class="g"/>
<circle cx="516.1" cy="943.3" r="4.6" class="g"/>
<circle cx="519.9" cy="947.2" r="4.6" class="g"/>
<circle cx="518.2" cy="952.1" r="4.6" class="g"/>
<circle cx="526.5" cy="964.1" r="4.6" class="g"/>
<circle cx="526.5" cy="969.0" r="4.6" class="g"/>
<circle cx="524.5" cy="978.7" r="4.6" class="g"/>
<circle cx="524.9" cy="987.3" r="4.6" class="g"/>
<circle cx="516.2" cy="988.9" r="4.6" class="g"/>
<circle cx="520.7" cy="994.7" r="4.6" class="g"/>
<circle cx="405.0" cy="983.1" r="4.6" class="g"/>
<circle cx="400.2" cy="988.1" r="4.6" class="g"/>
<circle cx="400.5" cy="993.1" r="4.6" class="g"/>
<circle cx="393.9" cy="994.2" r="4.6" class="g"/>
<circle cx="382.0" cy="995.2" r="4.6" class="g"/>
<circle cx="415.8" cy="980.3" r="4.6" class="g"/>
<circle cx="414.3" cy="986.4" r="4.6" class="g"/>
<circle cx="414.6" cy="994.7" r="4.6" class="g"/>
<circle cx="424.9" cy="983.1" r="4.6" class="g"/>
<circle cx="394.4" cy="1003.5" r="4.6" class="g"/>
<circle cx="388.4" cy="1007.7" r="4.6" class="g"/>
<circle cx="426.2" cy="1001.9" r="4.6" class="g"/>
<circle cx="427.1" cy="1007.7" r="4.6" class="g"/>
<circle cx="438.7" cy="1007.2" r="4.6" class="g"/>
<circle cx="445.0" cy="1007.7" r="4.6" class="g"/>
<circle cx="443.6" cy="1013.0" r="4.6" class="g"/>
<circle cx="446.1" cy="989.8" r="4.6" class="g"/>
<circle cx="450.3" cy="993.9" r="4.6" class="g"/>
<circle cx="450.3" cy="997.2" r="4.6" class="g"/>
<circle cx="455.2" cy="997.2" r="4.6" class="g"/>
<circle cx="462.7" cy="985.6" r="4.6" class="g"/>
<circle cx="469.3" cy="996.4" r="4.6" class="g"/>
<circle cx="475.1" cy="1000.5" r="4.6" class="g"/>
<circle cx="479.3" cy="992.6" r="4.6" class="g"/>
<circle cx="487.6" cy="995.2" r="4.6" class="g"/>
<circle cx="497.5" cy="991.4" r="4.6" class="g"/>
<circle cx="501.7" cy="992.6" r="4.6" class="g"/>
<circle cx="505.8" cy="993.1" r="4.6" class="g"/>
<circle cx="461.9" cy="1003.8" r="4.6" class="g"/>
<circle cx="468.5" cy="1010.5" r="4.6" class="g"/>
<circle cx="479.3" cy="1013.8" r="4.6" class="g"/>
<circle cx="513.3" cy="1005.2" r="4.6" class="g"/>
<circle cx="522.4" cy="1007.2" r="4.6" class="g"/>
<circle cx="524.9" cy="1012.1" r="4.6" class="g"/>
<circle cx="535.5" cy="920.5" r="4.6" class="g"/>
<circle cx="604.4" cy="919.3" r="4.6" class="g"/>
<circle cx="617.7" cy="920.1" r="4.6" class="g"/>
<circle cx="621.8" cy="926.8" r="4.6" class="g"/>
<circle cx="633.4" cy="920.1" r="4.6" class="g"/>
<circle cx="667.4" cy="922.6" r="4.6" class="g"/>
<circle cx="675.7" cy="929.3" r="4.6" class="g"/>
<circle cx="572.9" cy="924.3" r="4.6" class="g"/>
<circle cx="539.6" cy="931.9" r="4.6" class="g"/>
<circle cx="542.3" cy="940.8" r="4.6" class="g"/>
<circle cx="539.8" cy="951.6" r="4.6" class="g"/>
<circle cx="551.4" cy="955.0" r="4.6" class="g"/>
<circle cx="558.8" cy="951.6" r="4.6" class="g"/>
<circle cx="537.3" cy="962.4" r="4.6" class="g"/>
<circle cx="544.7" cy="967.4" r="4.6" class="g"/>
<circle cx="552.2" cy="964.1" r="4.6" class="g"/>
<circle cx="573.8" cy="955.8" r="4.6" class="g"/>
<circle cx="582.9" cy="949.2" r="4.6" class="g"/>
<circle cx="597.0" cy="949.2" r="4.6" class="g"/>
<circle cx="601.5" cy="947.4" r="4.6" class="g"/>
<circle cx="606.8" cy="953.1" r="4.6" class="g"/>
<circle cx="590.3" cy="955.0" r="4.6" class="g"/>
<circle cx="572.9" cy="971.5" r="4.6" class="g"/>
<circle cx="585.4" cy="970.7" r="4.6" class="g"/>
<circle cx="605.0" cy="970.8" r="4.6" class="g"/>
<circle cx="618.5" cy="944.2" r="4.6" class="g"/>
<circle cx="624.3" cy="946.7" r="4.6" class="g"/>
<circle cx="641.4" cy="952.8" r="4.6" class="g"/>
<circle cx="634.3" cy="957.4" r="4.6" class="g"/>
<circle cx="606.1" cy="975.7" r="4.6" class="g"/>
<circle cx="616.8" cy="976.5" r="4.6" class="g"/>
<circle cx="661.6" cy="946.7" r="4.6" class="g"/>
<circle cx="674.0" cy="946.7" r="4.6" class="g"/>
<circle cx="673.2" cy="955.8" r="4.6" class="g"/>
<circle cx="656.6" cy="982.3" r="4.6" class="g"/>
<circle cx="664.9" cy="988.1" r="4.6" class="g"/>
<circle cx="542.3" cy="984.0" r="4.6" class="g"/>
<circle cx="553.9" cy="979.8" r="4.6" class="g"/>
<circle cx="556.3" cy="985.6" r="4.6" class="g"/>
<circle cx="566.8" cy="984.8" r="4.6" class="g"/>
<circle cx="536.5" cy="996.4" r="4.6" class="g"/>
<circle cx="538.9" cy="1002.2" r="4.6" class="g"/>
<circle cx="548.9" cy="997.2" r="4.6" class="g"/>
<circle cx="558.5" cy="996.4" r="4.6" class="g"/>
<circle cx="571.3" cy="996.9" r="4.6" class="g"/>
<circle cx="578.7" cy="993.9" r="4.6" class="g"/>
<circle cx="595.3" cy="988.9" r="4.6" class="g"/>
<circle cx="600.3" cy="990.6" r="4.6" class="g"/>
<circle cx="594.5" cy="995.6" r="4.6" class="g"/>
<circle cx="616.8" cy="992.2" r="4.6" class="g"/>
<circle cx="613.5" cy="997.2" r="4.6" class="g"/>
<circle cx="619.3" cy="989.8" r="4.6" class="g"/>
<circle cx="627.6" cy="986.4" r="4.6" class="g"/>
<circle cx="588.7" cy="1003.8" r="4.6" class="g"/>
<circle cx="598.6" cy="1002.2" r="4.6" class="g"/>
<circle cx="621.0" cy="1004.7" r="4.6" class="g"/>
<circle cx="550.5" cy="1008.0" r="4.6" class="g"/>
<circle cx="562.2" cy="1009.7" r="4.6" class="g"/>
<circle cx="563.8" cy="1012.1" r="4.6" class="g"/>
<circle cx="585.4" cy="1010.5" r="4.6" class="g"/>
<circle cx="598.6" cy="1010.5" r="4.6" class="g"/>
<circle cx="601.9" cy="1013.8" r="4.6" class="g"/>
<circle cx="631.8" cy="1010.5" r="4.6" class="g"/>
<circle cx="642.5" cy="1003.8" r="4.6" class="g"/>
<circle cx="643.4" cy="1008.8" r="4.6" class="g"/>
<circle cx="652.5" cy="1008.8" r="4.6" class="g"/>
<circle cx="636.7" cy="1013.8" r="4.6" class="g"/>
<circle cx="682.3" cy="923.5" r="4.6" class="g"/>
<circle cx="695.6" cy="926.8" r="4.6" class="g"/>
<circle cx="731.2" cy="923.5" r="4.6" class="g"/>
<circle cx="790.4" cy="925.1" r="4.6" class="g"/>
<circle cx="682.3" cy="940.9" r="4.6" class="g"/>
<circle cx="684.0" cy="945.8" r="4.6" class="g"/>
<circle cx="692.3" cy="947.5" r="4.6" class="g"/>
<circle cx="701.7" cy="954.1" r="4.6" class="g"/>
<circle cx="693.1" cy="958.3" r="4.6" class="g"/>
<circle cx="751.4" cy="947.2" r="4.6" class="g"/>
<circle cx="698.1" cy="973.7" r="4.6" class="g"/>
<circle cx="721.8" cy="976.0" r="4.6" class="g"/>
<circle cx="728.7" cy="979.8" r="4.6" class="g"/>
<circle cx="739.5" cy="973.2" r="4.6" class="g"/>
<circle cx="742.8" cy="974.8" r="4.6" class="g"/>
<circle cx="789.2" cy="982.3" r="4.6" class="g"/>
<circle cx="701.9" cy="988.9" r="4.6" class="g"/>
<circle cx="710.2" cy="997.7" r="4.6" class="g"/>
<circle cx="757.2" cy="990.3" r="4.6" class="g"/>
<circle cx="754.4" cy="999.2" r="4.6" class="g"/>
<circle cx="749.4" cy="1001.4" r="4.6" class="g"/>
<circle cx="780.9" cy="995.2" r="4.6" class="g"/>
<circle cx="688.9" cy="1003.8" r="4.6" class="g"/>
<circle cx="682.3" cy="1009.7" r="4.6" class="g"/>
<circle cx="690.6" cy="1009.7" r="4.6" class="g"/>
<circle cx="720.4" cy="1003.8" r="4.6" class="g"/>
<circle cx="806.6" cy="1002.2" r="4.6" class="g"/>
<circle cx="805.0" cy="1008.0" r="4.6" class="g"/>
<circle cx="211.1" cy="1029.3" r="4.6" class="g"/>
<circle cx="169.7" cy="1058.6" r="4.6" class="g"/>
<circle cx="92.6" cy="1080.1" r="4.6" class="g"/>
<circle cx="179.0" cy="1079.8" r="4.6" class="g"/>
<circle cx="192.2" cy="1079.8" r="4.6" class="g"/>
<circle cx="167.3" cy="1092.2" r="4.6" class="g"/>
<circle cx="220.2" cy="1106.8" r="4.6" class="g"/>
<circle cx="278.3" cy="1017.0" r="4.6" class="g"/>
<circle cx="286.2" cy="1024.0" r="4.6" class="g"/>
<circle cx="291.5" cy="1029.3" r="4.6" class="g"/>
<circle cx="292.4" cy="1031.9" r="4.6" class="g"/>
<circle cx="319.8" cy="1024.5" r="4.6" class="g"/>
<circle cx="329.5" cy="1024.5" r="4.6" class="g"/>
<circle cx="335.7" cy="1021.3" r="4.6" class="g"/>
<circle cx="348.1" cy="1019.2" r="4.6" class="g"/>
<circle cx="334.8" cy="1032.3" r="4.6" class="g"/>
<circle cx="326.9" cy="1038.1" r="4.6" class="g"/>
<circle cx="333.9" cy="1045.2" r="4.6" class="g"/>
<circle cx="317.1" cy="1046.9" r="4.6" class="g"/>
<circle cx="247.3" cy="1036.3" r="4.6" class="g"/>
<circle cx="258.3" cy="1048.7" r="4.6" class="g"/>
<circle cx="242.9" cy="1052.2" r="4.6" class="g"/>
<circle cx="291.5" cy="1054.5" r="4.6" class="g"/>
<circle cx="349.3" cy="1057.2" r="4.6" class="g"/>
<circle cx="368.4" cy="1033.7" r="4.6" class="g"/>
<circle cx="371.1" cy="1039.0" r="4.6" class="g"/>
<circle cx="376.4" cy="1040.8" r="4.6" class="g"/>
<circle cx="368.0" cy="1046.4" r="4.6" class="g"/>
<circle cx="233.5" cy="1066.9" r="4.6" class="g"/>
<circle cx="275.9" cy="1070.5" r="4.6" class="g"/>
<circle cx="301.7" cy="1070.5" r="4.6" class="g"/>
<circle cx="306.9" cy="1066.7" r="4.6" class="g"/>
<circle cx="334.8" cy="1073.8" r="4.6" class="g"/>
<circle cx="341.0" cy="1070.5" r="4.6" class="g"/>
<circle cx="365.7" cy="1069.0" r="4.6" class="g"/>
<circle cx="372.8" cy="1069.0" r="4.6" class="g"/>
<circle cx="372.8" cy="1073.5" r="4.6" class="g"/>
<circle cx="260.5" cy="1078.8" r="4.6" class="g"/>
<circle cx="279.5" cy="1081.4" r="4.6" class="g"/>
<circle cx="334.8" cy="1082.7" r="4.6" class="g"/>
<circle cx="229.6" cy="1085.8" r="4.6" class="g"/>
<circle cx="228.7" cy="1089.4" r="4.6" class="g"/>
<circle cx="358.7" cy="1078.8" r="4.6" class="g"/>
<circle cx="355.1" cy="1082.3" r="4.6" class="g"/>
<circle cx="353.4" cy="1085.8" r="4.6" class="g"/>
<circle cx="350.7" cy="1088.5" r="4.6" class="g"/>
<circle cx="360.4" cy="1088.5" r="4.6" class="g"/>
<circle cx="307.9" cy="1088.5" r="4.6" class="g"/>
<circle cx="372.8" cy="1092.0" r="4.6" class="g"/>
<circle cx="258.3" cy="1097.0" r="4.6" class="g"/>
<circle cx="263.2" cy="1100.5" r="4.6" class="g"/>
<circle cx="259.3" cy="1105.8" r="4.6" class="g"/>
<circle cx="293.6" cy="1097.3" r="4.6" class="g"/>
<circle cx="303.5" cy="1099.5" r="4.6" class="g"/>
<circle cx="309.5" cy="1099.5" r="4.6" class="g"/>
<circle cx="322.1" cy="1103.2" r="4.6" class="g"/>
<circle cx="331.6" cy="1104.4" r="4.6" class="g"/>
<circle cx="349.0" cy="1104.4" r="4.6" class="g"/>
<circle cx="353.4" cy="1103.0" r="4.6" class="g"/>
<circle cx="356.0" cy="1103.0" r="4.6" class="g"/>
<circle cx="366.6" cy="1103.2" r="4.6" class="g"/>
<circle cx="374.6" cy="1105.3" r="4.6" class="g"/>
<circle cx="377.2" cy="1109.7" r="4.6" class="g"/>
<circle cx="285.3" cy="1107.6" r="4.6" class="g"/>
<circle cx="271.2" cy="1113.2" r="4.6" class="g"/>
<circle cx="290.6" cy="1115.0" r="4.6" class="g"/>
<circle cx="480.4" cy="1017.8" r="4.6" class="g"/>
<circle cx="498.1" cy="1023.1" r="4.6" class="g"/>
<circle cx="524.6" cy="1024.8" r="4.6" class="g"/>
<circle cx="527.2" cy="1021.3" r="4.6" class="g"/>
<circle cx="389.3" cy="1029.3" r="4.6" class="g"/>
<circle cx="403.0" cy="1031.6" r="4.6" class="g"/>
<circle cx="389.3" cy="1035.1" r="4.6" class="g"/>
<circle cx="411.4" cy="1035.4" r="4.6" class="g"/>
<circle cx="424.7" cy="1026.6" r="4.6" class="g"/>
<circle cx="428.2" cy="1024.0" r="4.6" class="g"/>
<circle cx="425.6" cy="1033.7" r="4.6" class="g"/>
<circle cx="438.0" cy="1029.3" r="4.6" class="g"/>
<circle cx="440.6" cy="1031.0" r="4.6" class="g"/>
<circle cx="458.3" cy="1035.4" r="4.6" class="g"/>
<circle cx="467.1" cy="1036.3" r="4.6" class="g"/>
<circle cx="473.3" cy="1030.1" r="4.6" class="g"/>
<circle cx="482.2" cy="1033.7" r="4.6" class="g"/>
<circle cx="491.0" cy="1028.0" r="4.6" class="g"/>
<circle cx="492.8" cy="1030.1" r="4.6" class="g"/>
<circle cx="499.0" cy="1035.4" r="4.6" class="g"/>
<circle cx="509.6" cy="1035.1" r="4.6" class="g"/>
<circle cx="523.7" cy="1039.0" r="4.6" class="g"/>
<circle cx="521.1" cy="1043.4" r="4.6" class="g"/>
<circle cx="524.6" cy="1042.5" r="4.6" class="g"/>
<circle cx="382.3" cy="1041.6" r="4.6" class="g"/>
<circle cx="393.8" cy="1042.5" r="4.6" class="g"/>
<circle cx="393.8" cy="1048.7" r="4.6" class="g"/>
<circle cx="408.8" cy="1042.5" r="4.6" class="g"/>
<circle cx="411.4" cy="1040.8" r="4.6" class="g"/>
<circle cx="409.7" cy="1045.2" r="4.6" class="g"/>
<circle cx="409.7" cy="1051.4" r="4.6" class="g"/>
<circle cx="424.7" cy="1041.6" r="4.6" class="g"/>
<circle cx="436.2" cy="1040.8" r="4.6" class="g"/>
<circle cx="441.5" cy="1042.2" r="4.6" class="g"/>
<circle cx="452.1" cy="1040.4" r="4.6" class="g"/>
<circle cx="455.6" cy="1050.5" r="4.6" class="g"/>
<circle cx="458.3" cy="1051.4" r="4.6" class="g"/>
<circle cx="466.2" cy="1048.7" r="4.6" class="g"/>
<circle cx="473.3" cy="1054.0" r="4.6" class="g"/>
<circle cx="483.9" cy="1044.3" r="4.6" class="g"/>
<circle cx="489.2" cy="1041.6" r="4.6" class="g"/>
<circle cx="492.8" cy="1042.2" r="4.6" class="g"/>
<circle cx="498.9" cy="1043.4" r="4.6" class="g"/>
<circle cx="505.1" cy="1046.1" r="4.6" class="g"/>
<circle cx="508.7" cy="1048.7" r="4.6" class="g"/>
<circle cx="502.5" cy="1054.9" r="4.6" class="g"/>
<circle cx="382.3" cy="1054.9" r="4.6" class="g"/>
<circle cx="404.4" cy="1058.4" r="4.6" class="g"/>
<circle cx="413.2" cy="1062.0" r="4.6" class="g"/>
<circle cx="415.9" cy="1062.9" r="4.6" class="g"/>
<circle cx="395.5" cy="1065.5" r="4.6" class="g"/>
<circle cx="436.2" cy="1055.8" r="4.6" class="g"/>
<circle cx="440.6" cy="1054.9" r="4.6" class="g"/>
<circle cx="446.8" cy="1060.2" r="4.6" class="g"/>
<circle cx="457.4" cy="1058.4" r="4.6" class="g"/>
<circle cx="471.2" cy="1059.3" r="4.6" class="g"/>
<circle cx="493.6" cy="1061.1" r="4.6" class="g"/>
<circle cx="504.3" cy="1067.8" r="4.6" class="g"/>
<circle cx="518.4" cy="1063.4" r="4.6" class="g"/>
<circle cx="427.3" cy="1067.3" r="4.6" class="g"/>
<circle cx="431.8" cy="1067.3" r="4.6" class="g"/>
<circle cx="444.1" cy="1066.4" r="4.6" class="g"/>
<circle cx="452.1" cy="1069.9" r="4.6" class="g"/>
<circle cx="404.4" cy="1077.9" r="4.6" class="g"/>
<circle cx="407.0" cy="1076.1" r="4.6" class="g"/>
<circle cx="445.0" cy="1073.5" r="4.6" class="g"/>
<circle cx="448.6" cy="1077.9" r="4.6" class="g"/>
<circle cx="451.2" cy="1081.4" r="4.6" class="g"/>
<circle cx="457.4" cy="1079.6" r="4.6" class="g"/>
<circle cx="468.0" cy="1077.9" r="4.6" class="g"/>
<circle cx="475.9" cy="1077.9" r="4.6" class="g"/>
<circle cx="492.8" cy="1076.1" r="4.6" class="g"/>
<circle cx="510.4" cy="1077.9" r="4.6" class="g"/>
<circle cx="396.4" cy="1084.1" r="4.6" class="g"/>
<circle cx="449.4" cy="1088.5" r="4.6" class="g"/>
<circle cx="469.8" cy="1090.8" r="4.6" class="g"/>
<circle cx="486.6" cy="1092.0" r="4.6" class="g"/>
<circle cx="490.1" cy="1090.3" r="4.6" class="g"/>
<circle cx="507.8" cy="1091.1" r="4.6" class="g"/>
<circle cx="519.3" cy="1092.0" r="4.6" class="g"/>
<circle cx="379.6" cy="1092.4" r="4.6" class="g"/>
<circle cx="411.4" cy="1091.1" r="4.6" class="g"/>
<circle cx="420.3" cy="1088.5" r="4.6" class="g"/>
<circle cx="427.3" cy="1094.7" r="4.6" class="g"/>
<circle cx="430.0" cy="1097.3" r="4.6" class="g"/>
<circle cx="399.9" cy="1097.7" r="4.6" class="g"/>
<circle cx="410.5" cy="1100.9" r="4.6" class="g"/>
<circle cx="434.4" cy="1100.9" r="4.6" class="g"/>
<circle cx="440.6" cy="1102.3" r="4.6" class="g"/>
<circle cx="457.4" cy="1095.6" r="4.6" class="g"/>
<circle cx="456.5" cy="1100.9" r="4.6" class="g"/>
<circle cx="507.8" cy="1097.3" r="4.6" class="g"/>
<circle cx="513.1" cy="1103.0" r="4.6" class="g"/>
<circle cx="487.5" cy="1104.4" r="4.6" class="g"/>
<circle cx="384.0" cy="1104.4" r="4.6" class="g"/>
<circle cx="385.8" cy="1107.9" r="4.6" class="g"/>
<circle cx="399.1" cy="1105.3" r="4.6" class="g"/>
<circle cx="386.7" cy="1111.5" r="4.6" class="g"/>
<circle cx="393.8" cy="1111.5" r="4.6" class="g"/>
<circle cx="458.3" cy="1110.6" r="4.6" class="g"/>
<circle cx="489.2" cy="1114.1" r="4.6" class="g"/>
<circle cx="506.0" cy="1111.5" r="4.6" class="g"/>
<circle cx="533.1" cy="1020.4" r="4.6" class="g"/>
<circle cx="536.7" cy="1019.5" r="4.6" class="g"/>
<circle cx="543.8" cy="1021.3" r="4.6" class="g"/>
<circle cx="556.1" cy="1016.9" r="4.6" class="g"/>
<circle cx="566.7" cy="1018.7" r="4.6" class="g"/>
<circle cx="579.1" cy="1023.1" r="4.6" class="g"/>
<circle cx="584.4" cy="1024.0" r="4.6" class="g"/>
<circle cx="587.1" cy="1024.8" r="4.6" class="g"/>
<circle cx="583.5" cy="1016.9" r="4.6" class="g"/>
<circle cx="603.9" cy="1018.7" r="4.6" class="g"/>
<circle cx="618.9" cy="1028.0" r="4.6" class="g"/>
<circle cx="635.7" cy="1020.4" r="4.6" class="g"/>
<circle cx="642.8" cy="1016.9" r="4.6" class="g"/>
<circle cx="646.3" cy="1018.7" r="4.6" class="g"/>
<circle cx="657.8" cy="1018.7" r="4.6" class="g"/>
<circle cx="552.6" cy="1031.9" r="4.6" class="g"/>
<circle cx="556.1" cy="1028.4" r="4.6" class="g"/>
<circle cx="565.0" cy="1033.7" r="4.6" class="g"/>
<circle cx="569.4" cy="1029.3" r="4.6" class="g"/>
<circle cx="570.3" cy="1032.8" r="4.6" class="g"/>
<circle cx="571.2" cy="1039.0" r="4.6" class="g"/>
<circle cx="581.8" cy="1035.4" r="4.6" class="g"/>
<circle cx="585.3" cy="1032.8" r="4.6" class="g"/>
<circle cx="593.3" cy="1033.7" r="4.6" class="g"/>
<circle cx="599.4" cy="1030.1" r="4.6" class="g"/>
<circle cx="600.3" cy="1034.6" r="4.6" class="g"/>
<circle cx="603.0" cy="1036.3" r="4.6" class="g"/>
<circle cx="598.6" cy="1040.8" r="4.6" class="g"/>
<circle cx="605.6" cy="1040.8" r="4.6" class="g"/>
<circle cx="615.4" cy="1039.0" r="4.6" class="g"/>
<circle cx="621.5" cy="1040.8" r="4.6" class="g"/>
<circle cx="632.2" cy="1038.1" r="4.6" class="g"/>
<circle cx="649.8" cy="1039.9" r="4.6" class="g"/>
<circle cx="664.0" cy="1039.0" r="4.6" class="g"/>
<circle cx="664.0" cy="1042.5" r="4.6" class="g"/>
<circle cx="664.0" cy="1048.7" r="4.6" class="g"/>
<circle cx="534.9" cy="1037.2" r="4.6" class="g"/>
<circle cx="534.0" cy="1042.5" r="4.6" class="g"/>
<circle cx="543.8" cy="1045.2" r="4.6" class="g"/>
<circle cx="548.2" cy="1044.3" r="4.6" class="g"/>
<circle cx="536.7" cy="1057.5" r="4.6" class="g"/>
<circle cx="543.8" cy="1054.9" r="4.6" class="g"/>
<circle cx="556.1" cy="1056.7" r="4.6" class="g"/>
<circle cx="565.9" cy="1052.8" r="4.6" class="g"/>
<circle cx="561.4" cy="1060.2" r="4.6" class="g"/>
<circle cx="565.9" cy="1060.2" r="4.6" class="g"/>
<circle cx="582.3" cy="1047.5" r="4.6" class="g"/>
<circle cx="601.2" cy="1050.5" r="4.6" class="g"/>
<circle cx="611.8" cy="1049.6" r="4.6" class="g"/>
<circle cx="628.6" cy="1047.8" r="4.6" class="g"/>
<circle cx="636.6" cy="1045.2" r="4.6" class="g"/>
<circle cx="640.1" cy="1052.2" r="4.6" class="g"/>
<circle cx="642.8" cy="1057.5" r="4.6" class="g"/>
<circle cx="645.4" cy="1058.4" r="4.6" class="g"/>
<circle cx="621.5" cy="1056.7" r="4.6" class="g"/>
<circle cx="610.9" cy="1059.3" r="4.6" class="g"/>
<circle cx="612.7" cy="1061.6" r="4.6" class="g"/>
<circle cx="601.2" cy="1061.6" r="4.6" class="g"/>
<circle cx="630.7" cy="1062.0" r="4.6" class="g"/>
<circle cx="584.8" cy="1064.1" r="4.6" class="g"/>
<circle cx="553.5" cy="1067.3" r="4.6" class="g"/>
<circle cx="556.1" cy="1068.2" r="4.6" class="g"/>
<circle cx="571.2" cy="1067.3" r="4.6" class="g"/>
<circle cx="572.9" cy="1072.6" r="4.6" class="g"/>
<circle cx="603.0" cy="1066.4" r="4.6" class="g"/>
<circle cx="607.4" cy="1076.1" r="4.6" class="g"/>
<circle cx="601.2" cy="1079.6" r="4.6" class="g"/>
<circle cx="603.9" cy="1081.4" r="4.6" class="g"/>
<circle cx="542.0" cy="1077.0" r="4.6" class="g"/>
<circle cx="542.9" cy="1081.4" r="4.6" class="g"/>
<circle cx="556.1" cy="1078.8" r="4.6" class="g"/>
<circle cx="561.4" cy="1080.5" r="4.6" class="g"/>
<circle cx="563.2" cy="1083.2" r="4.6" class="g"/>
<circle cx="554.4" cy="1084.1" r="4.6" class="g"/>
<circle cx="571.2" cy="1081.4" r="4.6" class="g"/>
<circle cx="572.0" cy="1084.1" r="4.6" class="g"/>
<circle cx="665.7" cy="1071.7" r="4.6" class="g"/>
<circle cx="661.3" cy="1077.9" r="4.6" class="g"/>
<circle cx="643.6" cy="1077.0" r="4.6" class="g"/>
<circle cx="648.1" cy="1076.1" r="4.6" class="g"/>
<circle cx="645.4" cy="1083.2" r="4.6" class="g"/>
<circle cx="545.5" cy="1092.9" r="4.6" class="g"/>
<circle cx="560.5" cy="1091.1" r="4.6" class="g"/>
<circle cx="566.7" cy="1093.8" r="4.6" class="g"/>
<circle cx="580.0" cy="1095.6" r="4.6" class="g"/>
<circle cx="600.3" cy="1096.4" r="4.6" class="g"/>
<circle cx="601.2" cy="1099.1" r="4.6" class="g"/>
<circle cx="621.5" cy="1100.5" r="4.6" class="g"/>
<circle cx="635.7" cy="1093.8" r="4.6" class="g"/>
<circle cx="551.7" cy="1099.1" r="4.6" class="g"/>
<circle cx="549.9" cy="1104.4" r="4.6" class="g"/>
<circle cx="548.2" cy="1108.8" r="4.6" class="g"/>
<circle cx="557.0" cy="1110.6" r="4.6" class="g"/>
<circle cx="562.3" cy="1110.6" r="4.6" class="g"/>
<circle cx="559.7" cy="1114.1" r="4.6" class="g"/>
<circle cx="565.0" cy="1114.1" r="4.6" class="g"/>
<circle cx="588.0" cy="1113.2" r="4.6" class="g"/>
<circle cx="626.8" cy="1112.9" r="4.6" class="g"/>
<circle cx="642.8" cy="1111.5" r="4.6" class="g"/>
<circle cx="660.4" cy="1111.5" r="4.6" class="g"/>
<circle cx="682.3" cy="1016.9" r="4.6" class="g"/>
<circle cx="708.8" cy="1018.7" r="4.6" class="g"/>
<circle cx="727.3" cy="1016.9" r="4.6" class="g"/>
<circle cx="694.6" cy="1024.0" r="4.6" class="g"/>
<circle cx="737.1" cy="1034.6" r="4.6" class="g"/>
<circle cx="739.7" cy="1030.1" r="4.6" class="g"/>
<circle cx="745.0" cy="1030.1" r="4.6" class="g"/>
<circle cx="748.6" cy="1038.1" r="4.6" class="g"/>
<circle cx="757.4" cy="1039.0" r="4.6" class="g"/>
<circle cx="763.6" cy="1045.2" r="4.6" class="g"/>
<circle cx="783.9" cy="1033.7" r="4.6" class="g"/>
<circle cx="792.8" cy="1035.4" r="4.6" class="g"/>
<circle cx="794.5" cy="1032.8" r="4.6" class="g"/>
<circle cx="709.7" cy="1045.2" r="4.6" class="g"/>
<circle cx="718.5" cy="1040.8" r="4.6" class="g"/>
<circle cx="727.0" cy="1042.5" r="4.6" class="g"/>
<circle cx="702.6" cy="1056.7" r="4.6" class="g"/>
<circle cx="722.0" cy="1055.8" r="4.6" class="g"/>
<circle cx="729.1" cy="1053.1" r="4.6" class="g"/>
<circle cx="733.5" cy="1053.1" r="4.6" class="g"/>
<circle cx="740.6" cy="1057.5" r="4.6" class="g"/>
<circle cx="768.0" cy="1057.5" r="4.6" class="g"/>
<circle cx="682.3" cy="1073.5" r="4.6" class="g"/>
<circle cx="681.4" cy="1077.0" r="4.6" class="g"/>
<circle cx="714.1" cy="1069.9" r="4.6" class="g"/>
<circle cx="734.4" cy="1072.6" r="4.6" class="g"/>
<circle cx="705.2" cy="1078.8" r="4.6" class="g"/>
<circle cx="729.1" cy="1083.2" r="4.6" class="g"/>
<circle cx="769.4" cy="1078.8" r="4.6" class="g"/>
<circle cx="688.8" cy="1089.4" r="4.6" class="g"/>
<circle cx="684.0" cy="1097.3" r="4.6" class="g"/>
<circle cx="210.7" cy="1145.7" r="4.6" class="g"/>
<circle cx="187.2" cy="1184.4" r="4.6" class="g"/>
<circle cx="234.2" cy="1203.5" r="4.6" class="g"/>
<circle cx="291.0" cy="1118.1" r="4.6" class="g"/>
<circle cx="257.3" cy="1128.7" r="4.6" class="g"/>
<circle cx="299.7" cy="1129.6" r="4.6" class="g"/>
<circle cx="313.9" cy="1135.8" r="4.6" class="g"/>
<circle cx="324.5" cy="1135.8" r="4.6" class="g"/>
<circle cx="330.7" cy="1128.7" r="4.6" class="g"/>
<circle cx="334.2" cy="1122.5" r="4.6" class="g"/>
<circle cx="335.1" cy="1130.4" r="4.6" class="g"/>
<circle cx="338.6" cy="1125.1" r="4.6" class="g"/>
<circle cx="344.8" cy="1126.0" r="4.6" class="g"/>
<circle cx="345.7" cy="1130.4" r="4.6" class="g"/>
<circle cx="355.4" cy="1123.7" r="4.6" class="g"/>
<circle cx="364.8" cy="1119.8" r="4.6" class="g"/>
<circle cx="364.8" cy="1126.6" r="4.6" class="g"/>
<circle cx="375.7" cy="1126.6" r="4.6" class="g"/>
<circle cx="379.3" cy="1122.5" r="4.6" class="g"/>
<circle cx="256.9" cy="1145.5" r="4.6" class="g"/>
<circle cx="275.9" cy="1140.7" r="4.6" class="g"/>
<circle cx="327.1" cy="1149.0" r="4.6" class="g"/>
<circle cx="335.1" cy="1149.0" r="4.6" class="g"/>
<circle cx="378.4" cy="1150.3" r="4.6" class="g"/>
<circle cx="387.2" cy="1149.0" r="4.6" class="g"/>
<circle cx="287.9" cy="1168.5" r="4.6" class="g"/>
<circle cx="305.6" cy="1169.9" r="4.6" class="g"/>
<circle cx="320.9" cy="1163.7" r="4.6" class="g"/>
<circle cx="370.4" cy="1160.2" r="4.6" class="g"/>
<circle cx="374.9" cy="1159.6" r="4.6" class="g"/>
<circle cx="378.9" cy="1164.9" r="4.6" class="g"/>
<circle cx="346.6" cy="1177.8" r="4.6" class="g"/>
<circle cx="343.0" cy="1184.4" r="4.6" class="g"/>
<circle cx="358.6" cy="1183.1" r="4.6" class="g"/>
<circle cx="372.2" cy="1185.3" r="4.6" class="g"/>
<circle cx="375.7" cy="1187.9" r="4.6" class="g"/>
<circle cx="378.9" cy="1178.2" r="4.6" class="g"/>
<circle cx="382.5" cy="1193.7" r="4.6" class="g"/>
<circle cx="362.5" cy="1192.7" r="4.6" class="g"/>
<circle cx="359.8" cy="1201.2" r="4.6" class="g"/>
<circle cx="302.0" cy="1187.9" r="4.6" class="g"/>
<circle cx="251.1" cy="1195.0" r="4.6" class="g"/>
<circle cx="264.0" cy="1196.4" r="4.6" class="g"/>
<circle cx="271.1" cy="1204.7" r="4.6" class="g"/>
<circle cx="313.9" cy="1201.2" r="4.6" class="g"/>
<circle cx="316.5" cy="1204.7" r="4.6" class="g"/>
<circle cx="320.9" cy="1208.2" r="4.6" class="g"/>
<circle cx="325.7" cy="1196.4" r="4.6" class="g"/>
<circle cx="343.4" cy="1205.6" r="4.6" class="g"/>
<circle cx="403.8" cy="1123.7" r="4.6" class="g"/>
<circle cx="427.1" cy="1123.7" r="4.6" class="g"/>
<circle cx="406.1" cy="1138.4" r="4.6" class="g"/>
<circle cx="420.2" cy="1137.2" r="4.6" class="g"/>
<circle cx="434.7" cy="1137.2" r="4.6" class="g"/>
<circle cx="390.5" cy="1150.8" r="4.6" class="g"/>
<circle cx="419.7" cy="1156.6" r="4.6" class="g"/>
<circle cx="391.7" cy="1172.4" r="4.6" class="g"/>
<circle cx="402.3" cy="1177.3" r="4.6" class="g"/>
<circle cx="427.1" cy="1172.4" r="4.6" class="g"/>
<circle cx="435.6" cy="1175.5" r="4.6" class="g"/>
<circle cx="439.1" cy="1173.2" r="4.6" class="g"/>
<circle cx="439.1" cy="1188.8" r="4.6" class="g"/>
<circle cx="451.5" cy="1122.5" r="4.6" class="g"/>
<circle cx="456.8" cy="1123.7" r="4.6" class="g"/>
<circle cx="474.5" cy="1126.0" r="4.6" class="g"/>
<circle cx="493.0" cy="1130.8" r="4.6" class="g"/>
<circle cx="497.1" cy="1127.3" r="4.6" class="g"/>
<circle cx="528.9" cy="1128.7" r="4.6" class="g"/>
<circle cx="511.2" cy="1139.3" r="4.6" class="g"/>
<circle cx="474.5" cy="1145.5" r="4.6" class="g"/>
<circle cx="477.1" cy="1148.1" r="4.6" class="g"/>
<circle cx="480.7" cy="1148.1" r="4.6" class="g"/>
<circle cx="484.7" cy="1145.5" r="4.6" class="g"/>
<circle cx="489.5" cy="1146.4" r="4.6" class="g"/>
<circle cx="506.3" cy="1151.7" r="4.6" class="g"/>
<circle cx="508.1" cy="1154.3" r="4.6" class="g"/>
<circle cx="485.1" cy="1156.6" r="4.6" class="g"/>
<circle cx="473.6" cy="1161.0" r="4.6" class="g"/>
<circle cx="477.1" cy="1164.0" r="4.6" class="g"/>
<circle cx="477.1" cy="1171.1" r="4.6" class="g"/>
<circle cx="487.7" cy="1162.3" r="4.6" class="g"/>
<circle cx="498.3" cy="1161.4" r="4.6" class="g"/>
<circle cx="511.2" cy="1162.6" r="4.6" class="g"/>
<circle cx="525.7" cy="1158.7" r="4.6" class="g"/>
<circle cx="535.5" cy="1156.6" r="4.6" class="g"/>
<circle cx="505.4" cy="1169.9" r="4.6" class="g"/>
<circle cx="460.3" cy="1177.0" r="4.6" class="g"/>
<circle cx="470.9" cy="1184.4" r="4.6" class="g"/>
<circle cx="460.7" cy="1193.7" r="4.6" class="g"/>
<circle cx="463.0" cy="1203.8" r="4.6" class="g"/>
<circle cx="481.9" cy="1207.4" r="4.6" class="g"/>
<circle cx="512.5" cy="1186.7" r="4.6" class="g"/>
<circle cx="525.7" cy="1179.6" r="4.6" class="g"/>
<circle cx="506.7" cy="1197.6" r="4.6" class="g"/>
<circle cx="552.0" cy="1119.0" r="4.6" class="g"/>
<circle cx="574.1" cy="1121.6" r="4.6" class="g"/>
<circle cx="674.3" cy="1119.0" r="4.6" class="g"/>
<circle cx="630.7" cy="1129.6" r="4.6" class="g"/>
<circle cx="541.7" cy="1135.8" r="4.6" class="g"/>
<circle cx="548.1" cy="1141.4" r="4.6" class="g"/>
<circle cx="660.2" cy="1135.8" r="4.6" class="g"/>
<circle cx="675.7" cy="1141.9" r="4.6" class="g"/>
<circle cx="680.2" cy="1142.8" r="4.6" class="g"/>
<circle cx="623.6" cy="1153.8" r="4.6" class="g"/>
<circle cx="644.8" cy="1151.3" r="4.6" class="g"/>
<circle cx="582.0" cy="1161.4" r="4.6" class="g"/>
<circle cx="555.2" cy="1172.0" r="4.6" class="g"/>
<circle cx="569.3" cy="1169.7" r="4.6" class="g"/>
<circle cx="579.9" cy="1171.1" r="4.6" class="g"/>
<circle cx="596.2" cy="1169.7" r="4.6" class="g"/>
<circle cx="605.9" cy="1173.2" r="4.6" class="g"/>
<circle cx="660.2" cy="1174.6" r="4.6" class="g"/>
<circle cx="582.0" cy="1192.7" r="4.6" class="g"/>
<circle cx="684.6" cy="1203.5" r="4.6" class="g"/>
<circle cx="730.3" cy="1129.6" r="4.6" class="g"/>
<circle cx="746.7" cy="1152.5" r="4.6" class="g"/>
<circle cx="741.8" cy="1177.0" r="4.6" class="g"/>
<circle cx="183.7" cy="1248.4" r="4.6" class="g"/>
<circle cx="208.6" cy="1250.7" r="4.6" class="g"/>
<circle cx="374.0" cy="1219.2" r="4.6" class="g"/>
<circle cx="366.0" cy="1246.1" r="4.6" class="g"/>
<circle cx="290.0" cy="1272.6" r="4.6" class="g"/>
<circle cx="448.8" cy="1226.6" r="4.6" class="g"/>
<circle cx="397.6" cy="1249.6" r="4.6" class="g"/>
<circle cx="402.5" cy="1258.1" r="4.6" class="g"/>
<circle cx="512.5" cy="1254.4" r="4.6" class="g"/>
<circle cx="548.1" cy="1215.6" r="4.6" class="g"/>
<circle cx="560.0" cy="1219.0" r="4.6" class="g"/>
<circle cx="727.9" cy="1225.4" r="4.6" class="g"/>
<circle cx="527.8" cy="1095.6" r="4.6" class="g"/>
<circle cx="528.0" cy="1053.1" r="4.6" class="g"/>
<circle cx="529.3" cy="1108.0" r="4.6" class="g"/>
<circle cx="538.5" cy="1117.0" r="4.6" class="g"/>
<circle cx="530.2" cy="940.9" r="4.6" class="g"/>
<circle cx="526.7" cy="952.1" r="4.6" class="g"/>
<circle cx="528.3" cy="970.7" r="4.6" class="g"/>
<circle cx="679.5" cy="982.0" r="4.6" class="g"/>
<circle cx="673.3" cy="1021.5" r="4.6" class="g"/>
<circle cx="676.6" cy="1031.9" r="4.6" class="g"/>
<circle cx="679.9" cy="1031.7" r="4.6" class="g"/>
<circle cx="683.0" cy="1030.8" r="4.6" class="g"/>
<circle cx="686.1" cy="1029.9" r="4.6" class="g"/>
<circle cx="684.6" cy="851.9" r="4.6" class="g"/>
<circle cx="443.1" cy="934.5" r="4.6" class="g"/>
<circle cx="516.5" cy="989.2" r="4.6" class="g"/>
<circle cx="450.6" cy="997.5" r="4.6" class="g"/>
<circle cx="574.1" cy="956.1" r="4.6" class="g"/>
<circle cx="597.3" cy="949.5" r="4.6" class="g"/>
<circle cx="641.7" cy="953.1" r="4.6" class="g"/>
<circle cx="564.1" cy="1012.4" r="4.6" class="g"/>
<circle cx="403.3" cy="1031.9" r="4.6" class="g"/>
<circle cx="509.9" cy="1035.4" r="4.6" class="g"/>
<circle cx="502.8" cy="1055.2" r="4.6" class="g"/>
<circle cx="382.6" cy="1055.2" r="4.6" class="g"/>
<circle cx="468.3" cy="1078.2" r="4.6" class="g"/>
<circle cx="513.4" cy="1103.3" r="4.6" class="g"/>
<circle cx="548.4" cy="1141.7" r="4.6" class="g"/>
<circle cx="316.9" cy="1048.1" r="4.6" class="g"/>
<circle cx="673.6" cy="1021.8" r="4.6" class="g"/>
<line x1="79.30" y1="816.50" x2="79.30" y2="1303.40" stroke="#7f7f7f" stroke-width="1.5"/>
<line x1="74.30" y1="1303.40" x2="902.20" y2="1303.40" stroke="#7f7f7f" stroke-width="1.5"/>
<line x1="74.30" y1="1303.30" x2="79.30" y2="1303.30" stroke="#7f7f7f" stroke-width="1.5"/>
<line x1="76.30" y1="1265.85" x2="79.30" y2="1265.85" stroke="#7f7f7f" stroke-width="1.5"/>
<line x1="74.30" y1="1228.40" x2="79.30" y2="1228.40" stroke="#7f7f7f" stroke-width="1.5"/>
<line x1="76.30" y1="1190.95" x2="79.30" y2="1190.95" stroke="#7f7f7f" stroke-width="1.5"/>
<line x1="74.30" y1="1153.50" x2="79.30" y2="1153.50" stroke="#7f7f7f" stroke-width="1.5"/>
<line x1="76.30" y1="1116.05" x2="79.30" y2="1116.05" stroke="#7f7f7f" stroke-width="1.5"/>
<line x1="74.30" y1="1078.60" x2="79.30" y2="1078.60" stroke="#7f7f7f" stroke-width="1.5"/>
<line x1="76.30" y1="1041.15" x2="79.30" y2="1041.15" stroke="#7f7f7f" stroke-width="1.5"/>
<line x1="74.30" y1="1003.70" x2="79.30" y2="1003.70" stroke="#7f7f7f" stroke-width="1.5"/>
<line x1="76.30" y1="966.25" x2="79.30" y2="966.25" stroke="#7f7f7f" stroke-width="1.5"/>
<line x1="74.30" y1="928.80" x2="79.30" y2="928.80" stroke="#7f7f7f" stroke-width="1.5"/>
<line x1="76.30" y1="891.35" x2="79.30" y2="891.35" stroke="#7f7f7f" stroke-width="1.5"/>
<line x1="74.30" y1="853.90" x2="79.30" y2="853.90" stroke="#7f7f7f" stroke-width="1.5"/>
<line x1="76.30" y1="816.45" x2="79.30" y2="816.45" stroke="#7f7f7f" stroke-width="1.5"/>
<line x1="101.90" y1="1303.40" x2="101.90" y2="1306.40" stroke="#7f7f7f" stroke-width="1.5"/>
<line x1="211.60" y1="1303.40" x2="211.60" y2="1309.40" stroke="#7f7f7f" stroke-width="1.5"/>
<line x1="321.30" y1="1303.40" x2="321.30" y2="1306.40" stroke="#7f7f7f" stroke-width="1.5"/>
<line x1="431.00" y1="1303.40" x2="431.00" y2="1309.40" stroke="#7f7f7f" stroke-width="1.5"/>
<line x1="540.70" y1="1303.40" x2="540.70" y2="1306.40" stroke="#7f7f7f" stroke-width="1.5"/>
<line x1="650.40" y1="1303.40" x2="650.40" y2="1309.40" stroke="#7f7f7f" stroke-width="1.5"/>
<line x1="760.10" y1="1303.40" x2="760.10" y2="1306.40" stroke="#7f7f7f" stroke-width="1.5"/>
<line x1="869.80" y1="1303.40" x2="869.80" y2="1309.40" stroke="#7f7f7f" stroke-width="1.5"/>
<text x="70.6" y="861.90" text-anchor="end" class="tb" textLength="37.2" lengthAdjust="spacingAndGlyphs">0.08</text>
<text x="70.6" y="936.80" text-anchor="end" class="tb" textLength="37.2" lengthAdjust="spacingAndGlyphs">0.06</text>
<text x="70.6" y="1011.70" text-anchor="end" class="tb" textLength="37.2" lengthAdjust="spacingAndGlyphs">0.04</text>
<text x="70.6" y="1086.60" text-anchor="end" class="tb" textLength="37.2" lengthAdjust="spacingAndGlyphs">0.02</text>
<text x="70.6" y="1161.50" text-anchor="end" class="tb">0</text>
<text x="70.6" y="1236.40" text-anchor="end" class="tb" textLength="44" lengthAdjust="spacingAndGlyphs">-0.02</text>
<text x="70.6" y="1311.30" text-anchor="end" class="tb" textLength="44" lengthAdjust="spacingAndGlyphs">-0.04</text>
<text x="211.60" y="1332.7" text-anchor="middle" class="tb" textLength="43.4" lengthAdjust="spacingAndGlyphs">-0.05</text>
<text x="431.00" y="1332.7" text-anchor="middle" class="tb">0</text>
<text x="650.40" y="1332.7" text-anchor="middle" class="tb" textLength="37.2" lengthAdjust="spacingAndGlyphs">0.05</text>
<text x="869.80" y="1332.7" text-anchor="middle" class="tb" textLength="25.8" lengthAdjust="spacingAndGlyphs">0.1</text>
<circle cx="853.2" cy="932.8" r="7.6" fill="#68a352" stroke="#3a6a2a" stroke-width="1.3"/>
<circle cx="805.4" cy="962.7" r="7.6" fill="#68a352" stroke="#3a6a2a" stroke-width="1.3"/>
<circle cx="854.5" cy="1079.0" r="7.6" fill="#68a352" stroke="#3a6a2a" stroke-width="1.3"/>
<circle cx="828.4" cy="1103.4" r="7.6" fill="#68a352" stroke="#3a6a2a" stroke-width="1.3"/>
<text x="842" y="939.5" text-anchor="end" class="lab" textLength="303.8" lengthAdjust="spacingAndGlyphs">2,3-dihydroxy-5-methylthio-4-pentenoate</text>
<text x="795.6" y="967.8" text-anchor="end" class="lab" textLength="237.5" lengthAdjust="spacingAndGlyphs">N6-carbamoylthreonyladenosine</text>
<text x="846.3" y="1068.5" text-anchor="end" class="lab" textLength="194.2" lengthAdjust="spacingAndGlyphs">hexadecadienoate (16:2n6)</text>
<text x="817.6" y="1108.8" text-anchor="end" class="lab" textLength="154.2" lengthAdjust="spacingAndGlyphs">stearidonate (18:4n3)</text>
<defs><linearGradient id="cb" x1="157.5" y1="0" x2="785" y2="0" gradientUnits="userSpaceOnUse"><stop offset="0" stop-color="#3b78b8"/><stop offset="0.168" stop-color="#3b78b8"/><stop offset="0.441" stop-color="#35b035"/><stop offset="0.597" stop-color="#35b035"/><stop offset="0.890" stop-color="#ff0000"/><stop offset="1" stop-color="#ff0000"/></linearGradient></defs>
<rect x="157.5" y="40" width="627.5" height="20" fill="url(#cb)"/>
<line x1="206.3" y1="29.5" x2="206.3" y2="40" stroke="#000" stroke-width="2.6"/>
<line x1="471.6" y1="29.5" x2="471.6" y2="40" stroke="#000" stroke-width="2.6"/>
<line x1="731.5" y1="29.5" x2="731.5" y2="40" stroke="#000" stroke-width="2.6"/>
<text x="157.6" y="22.3" class="cat" textLength="88.1" lengthAdjust="spacingAndGlyphs">Control</text>
<text x="359.4" y="22.3" class="cat" textLength="204" lengthAdjust="spacingAndGlyphs">Pre-hypertension</text>
<text x="645.4" y="22.3" class="cat" textLength="158.4" lengthAdjust="spacingAndGlyphs">Hypertension</text>
<text x="12.4" y="37.6" class="pl">A</text>
<text x="13.8" y="778.6" class="pl" textLength="28.1" lengthAdjust="spacingAndGlyphs">B</text>
<text x="335.4" y="722" class="at" textLength="274.6" lengthAdjust="spacingAndGlyphs">Predictive component</text>
<text transform="translate(142.8,518) rotate(-90)" x="0" y="0" class="at" textLength="294.4" lengthAdjust="spacingAndGlyphs">Orthogonal component</text>
<text x="270.2" y="1362" class="bt" textLength="452.8" lengthAdjust="spacingAndGlyphs">Loading values from predictive component</text>
<text transform="translate(20.4,1297) rotate(-90)" x="0" y="0" class="bt" textLength="475.8" lengthAdjust="spacingAndGlyphs">Loading values from orthogonal component</text>
</svg></body></html>
